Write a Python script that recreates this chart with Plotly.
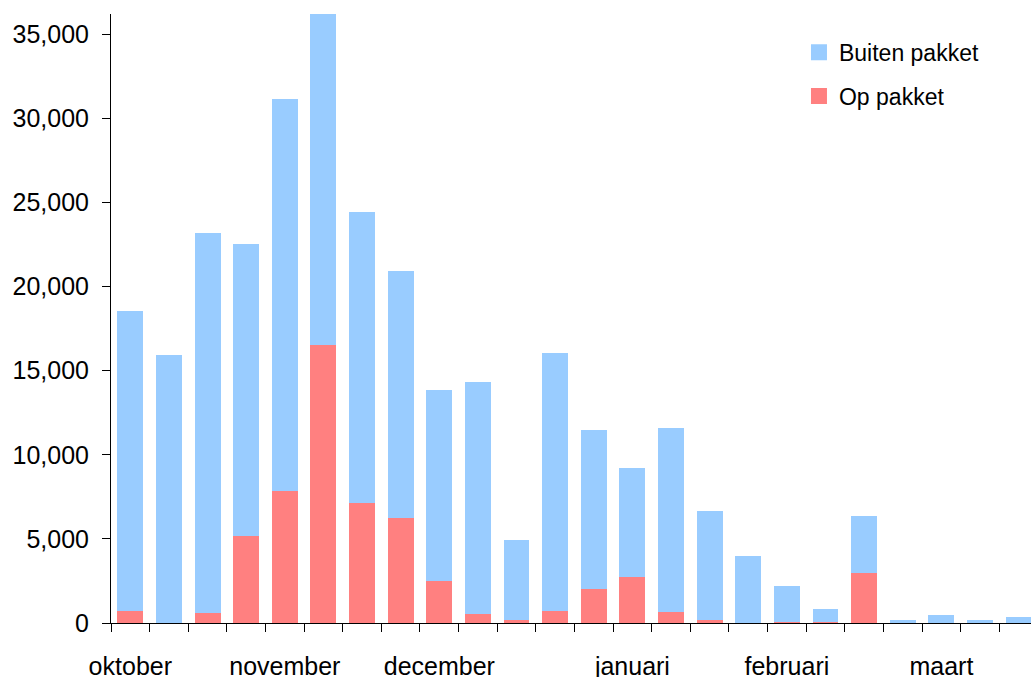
import plotly.graph_objects as go

weeks = list(range(24))
month_pos = [0, 4, 8, 13, 17, 21]
month_labels = ["oktober", "november", "december", "januari", "februari", "maart"]

totals = [18570, 15950, 23210, 22550, 31120, 36230, 24460, 20950, 13870, 14350,
          4950, 16070, 11490, 9230, 11610, 6680, 4000, 2220, 850, 6380,
          200, 490, 200, 370]
op_pakket = [690, 0, 570, 5190, 7870, 16510, 7110, 6260, 2520, 550,
             200, 730, 2040, 2750, 670, 200, 0, 80, 80, 2990,
             0, 0, 0, 0]
buiten_pakket = [t - o for t, o in zip(totals, op_pakket)]

RED = "#FF8080"
BLUE = "#99CCFF"

fig = go.Figure()
fig.add_trace(go.Bar(x=weeks, y=op_pakket, name="Op pakket",
                     marker=dict(color=RED, line=dict(width=0)),
                     showlegend=False))
fig.add_trace(go.Bar(x=weeks, y=buiten_pakket, name="Buiten pakket",
                     marker=dict(color=BLUE, line=dict(width=0)),
                     showlegend=False))
# legend entries with larger square swatches
fig.add_trace(go.Scatter(x=[None], y=[None], mode="markers", name="Buiten pakket",
                         marker=dict(symbol="square", size=17, color=BLUE),
                         legendgroup="buiten", legendrank=1))
fig.add_trace(go.Scatter(x=[None], y=[None], mode="markers", name="Op pakket",
                         marker=dict(symbol="square", size=17, color=RED),
                         legendgroup="op", legendrank=2))

fig.update_layout(
    width=1031, height=677,
    barmode="stack", bargap=0.33,
    margin=dict(l=111, r=0, t=14, b=54),
    paper_bgcolor="white", plot_bgcolor="white",
    font=dict(family="Liberation Sans, Arial, sans-serif", size=25, color="black"),
    showlegend=True,
    legend=dict(x=0.7478, y=0.9726, xanchor="left", yanchor="top",
                traceorder="grouped", tracegroupgap=11,
                font=dict(size=23), bgcolor="rgba(0,0,0,0)"),
    xaxis=dict(range=[-0.5, 23.32], tickmode="array", tickvals=month_pos,
               ticktext=month_labels, ticks="", showgrid=False, zeroline=False,
               showline=True, linecolor="black", linewidth=1, automargin=False,
               ticklabelstandoff=21,
               minor=dict(ticks="outside", ticklen=8, tick0=-0.5, dtick=1,
                          tickcolor="black", tickwidth=1, showgrid=False)),
    yaxis=dict(range=[0, 36200], tickmode="array",
               tickvals=[0, 5000, 10000, 15000, 20000, 25000, 30000, 35000],
               tickformat=",", ticks="outside", ticklen=8, tickcolor="black",
               showgrid=False, zeroline=False, showline=True, linecolor="black",
               linewidth=1, automargin=False, ticklabelstandoff=8),
)

fig.write_html(
    "out.html",
    config={"displayModeBar": False},
    post_script="document.body.style.margin='0';document.body.style.overflow='hidden';",
)
